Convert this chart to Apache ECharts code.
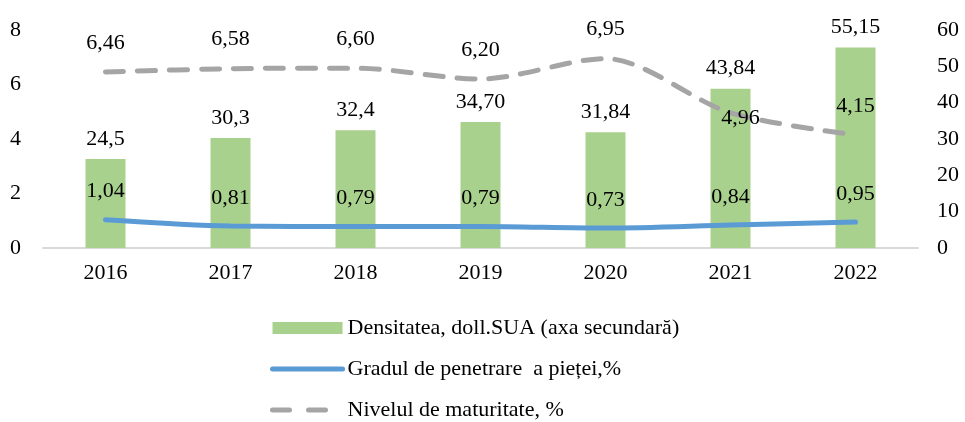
<!DOCTYPE html>
<html>
<head>
<meta charset="utf-8">
<script src="https://cdn.jsdelivr.net/npm/echarts@6/dist/echarts.min.js"></script>
<style>
  html, body { margin: 0; padding: 0; background: #fff; }
  #chart { width: 965px; height: 422px; }
</style>
</head>
<body>
<div id="chart"></div>
<script>
// ani
var years = ['2016', '2017', '2018', '2019', '2020', '2021', '2022']
// densitatea, doll.SUA (axa secundara)
var densitate = [24.5, 30.3, 32.4, 34.70, 31.84, 43.84, 55.15]
var densitateLbl = ['24,5', '30,3', '32,4', '34,70', '31,84', '43,84', '55,15']
// gradul de penetrare, %
var penetrare = [1.04, 0.81, 0.79, 0.79, 0.73, 0.84, 0.95]
var penetrareLbl = ['1,04', '0,81', '0,79', '0,79', '0,73', '0,84', '0,95']
// nivelul de maturitate, %
var maturitate = [6.46, 6.58, 6.60, 6.20, 6.95, 4.96, 4.15]
var maturitateLbl = ['6,46', '6,58', '6,60', '6,20', '6,95', '4,96', '4,15']

var leftTicks = [0, 8, 2]
var rightTicks = [0, 60, 10]

var numeNume = [
  'Densitatea, doll.SUA (axa secundară)',
  'Gradul de penetrare  a pieței,%',
  'Nivelul de maturitate, %'
]

var fnt = 'Liberation Serif'
var fs = 22
var transp = 'rgba(0,0,0,0)'

var chart = echarts.init(document.getElementById('chart'))

var option = {
  animation: false,
  textStyle: { fontFamily: fnt },
  grid: { left: 43, right: 47, top: 30, bottom: 174 },
  legend: {
    orient: 'vertical',
    left: 270,
    top: 317,
    height: 105,
    padding: 0,
    itemGap: 19,
    itemWidth: 70,
    itemHeight: 12,
    textStyle: { fontFamily: fnt, fontSize: fs, color: '#000' },
    data: [
      { name: numeNume[0], icon: 'rect' },
      { name: numeNume[1], itemStyle: { color: transp }, lineStyle: { width: 5 } },
      { name: numeNume[2], itemStyle: { color: transp }, lineStyle: { width: 5, type: [17, 19] } }
    ]
  },
  xAxis: {
    type: 'category',
    data: years,
    axisLine: { lineStyle: { color: '#d9d9d9', width: 2 } },
    axisTick: { show: false },
    axisLabel: { margin: 14, fontFamily: fnt, fontSize: fs, color: '#000' }
  },
  yAxis: [
    {
      type: 'value',
      min: leftTicks[0], max: leftTicks[1], interval: leftTicks[2],
      splitLine: { show: false },
      axisLine: { show: false },
      axisLabel: { margin: 22, fontFamily: fnt, fontSize: fs, color: '#000' }
    },
    {
      type: 'value',
      min: rightTicks[0], max: rightTicks[1], interval: rightTicks[2],
      splitLine: { show: false },
      axisLine: { show: false },
      axisLabel: { margin: 19, fontFamily: fnt, fontSize: fs, color: '#000' }
    }
  ],
  series: [
    {
      name: numeNume[0],
      type: 'bar',
      yAxisIndex: 1,
      barWidth: 40,
      itemStyle: { color: '#a9d18e' },
      label: {
        show: true, position: 'top', distance: 9,
        fontFamily: fnt, fontSize: fs, color: '#000',
        formatter: function (p) { return densitateLbl[p.dataIndex] }
      },
      data: densitate
    },
    {
      name: numeNume[1],
      type: 'line',
      yAxisIndex: 0,
      smooth: 0.3,
      symbol: 'circle',
      symbolSize: 2,
      showSymbol: true,
      lineStyle: { color: '#5b9bd5', width: 5, cap: 'round' },
      itemStyle: { color: transp },
      label: {
        show: true, position: 'top', distance: 16,
        fontFamily: fnt, fontSize: fs, color: '#000',
        formatter: function (p) { return penetrareLbl[p.dataIndex] }
      },
      data: penetrare
    },
    {
      name: numeNume[2],
      type: 'line',
      yAxisIndex: 0,
      smooth: 0.3,
      symbol: 'circle',
      symbolSize: 2,
      showSymbol: true,
      lineStyle: { color: '#a5a5a5', width: 5, type: [18, 14], cap: 'round' },
      itemStyle: { color: transp },
      label: {
        show: true, position: 'top', distance: 17,
        fontFamily: fnt, fontSize: fs, color: '#000',
        formatter: function (p) { return maturitateLbl[p.dataIndex] }
      },
      data: maturitate.map(function (v, i) {
        if (i === 5) {
          return { value: v, label: { position: 'inside', offset: [10, 5] } }
        }
        return v
      })
    }
  ]
}

chart.setOption(option)
</script>
</body>
</html>
